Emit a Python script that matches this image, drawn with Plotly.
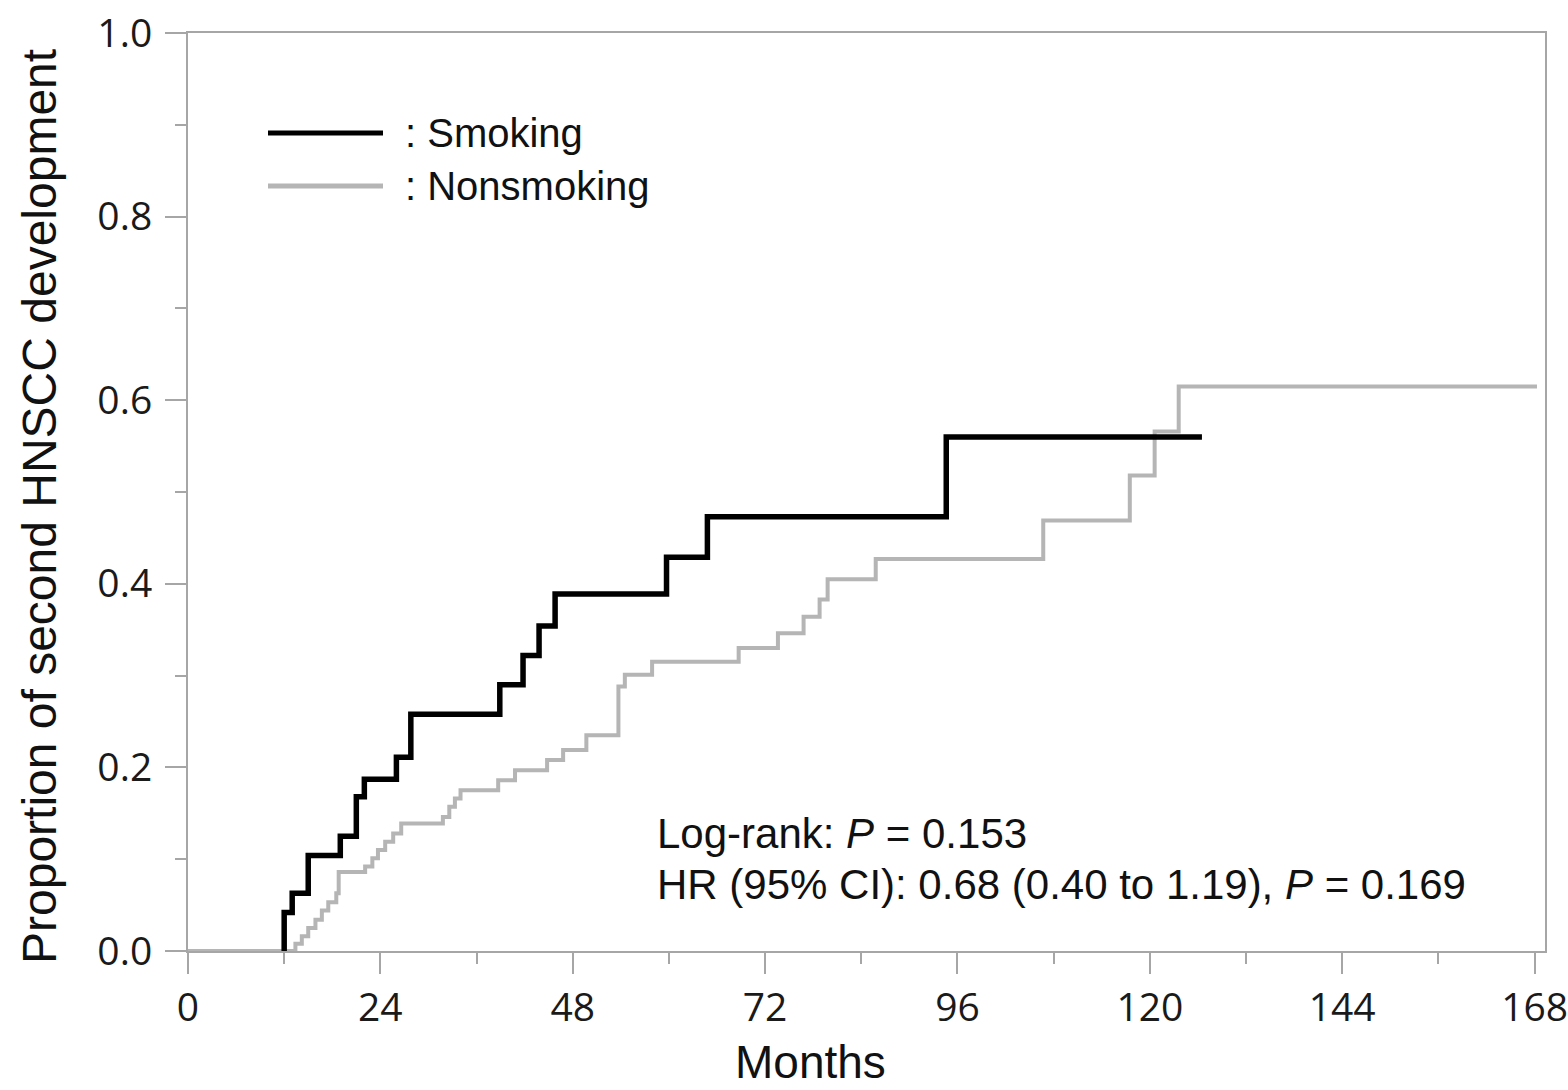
import plotly.graph_objects as go

# ---- data ----
smoking_months = [12.0, 12.0, 13.0, 15.0, 19.0, 21.0, 22.0, 26.0, 27.8, 38.9, 41.8, 43.8, 45.8, 59.7, 64.8, 94.6, 126.5]
smoking_prop = [0.0, 0.042, 0.063, 0.104, 0.125, 0.168, 0.187, 0.211, 0.258, 0.290, 0.322, 0.354, 0.389, 0.429, 0.473, 0.560, 0.560]

nonsmoking_months = [0, 12.0, 13.4, 14.2, 15.0, 15.9, 16.7, 17.5, 18.5, 18.8, 22.1, 23.0, 23.7, 24.6, 25.6, 26.6,
                     31.8, 32.6, 33.3, 34.0, 38.7, 40.8, 44.8, 46.8, 49.7, 53.7, 54.5, 57.9, 68.7, 73.6, 76.8,
                     78.8, 79.8, 85.8, 106.7, 117.5, 120.6, 123.6, 168.3]
nonsmoking_prop = [0.0, 0.0, 0.008, 0.016, 0.025, 0.034, 0.044, 0.053, 0.063, 0.086, 0.092, 0.101, 0.110, 0.119, 0.128, 0.139,
                   0.146, 0.157, 0.166, 0.175, 0.186, 0.197, 0.208, 0.219, 0.235, 0.288, 0.301, 0.315, 0.330, 0.346, 0.364,
                   0.383, 0.405, 0.427, 0.469, 0.518, 0.566, 0.615, 0.615]

x_ticks = [0, 24, 48, 72, 96, 120, 144, 168]
y_ticks = [0.0, 0.2, 0.4, 0.6, 0.8, 1.0]
y_tick_labels = ["0.0", "0.2", "0.4", "0.6", "0.8", "1.0"]

BLACK = "#000000"
GRAY = "#b5b5b5"
AXIS = "#a6a6a6"
TEXT_FONT = "Liberation Sans, Arial, sans-serif"
TICK_FONT = "Open Sans, sans-serif"

W, H = 1568, 1090
# plot area in page pixels
PL, PR, PT, PB = 188, 1545, 33, 951
PW, PH = PR - PL, PB - PT


def px(xp):
    return (xp - PL) / PW


def py(yp):
    return (PB - yp) / PH


fig = go.Figure()
fig.add_trace(go.Scatter(x=nonsmoking_months, y=nonsmoking_prop, mode="lines",
                         line=dict(shape="hv", color=GRAY, width=4), name="Nonsmoking",
                         showlegend=False))
fig.add_trace(go.Scatter(x=smoking_months, y=smoking_prop, mode="lines",
                         line=dict(shape="hv", color=BLACK, width=5.5), name="Smoking",
                         showlegend=False))

axis_common = dict(showline=True, linecolor=AXIS, linewidth=2, mirror=True,
                   ticks="outside", ticklen=21, tickwidth=2, tickcolor=AXIS,
                   showgrid=False, zeroline=False, ticklabeloverflow="allow",
                   tickfont=dict(family=TICK_FONT, size=39, color="#1a1a1a"))

fig.update_xaxes(range=[0, 169.3], tickvals=x_ticks,
                 minor=dict(dtick=12, tick0=0, ticklen=11, tickwidth=2, tickcolor=AXIS, ticks="outside", showgrid=False),
                 **axis_common)
fig.update_yaxes(range=[0, 1.0], tickvals=y_ticks, ticktext=y_tick_labels, ticklabelstandoff=5,
                 minor=dict(dtick=0.1, tick0=0, ticklen=11, tickwidth=2, tickcolor=AXIS, ticks="outside", showgrid=False),
                 **axis_common)

# legend drawn manually
fig.add_shape(type="line", xref="paper", yref="paper", x0=px(268), x1=px(383), y0=py(133), y1=py(133),
              line=dict(color=BLACK, width=5))
fig.add_shape(type="line", xref="paper", yref="paper", x0=px(268), x1=px(383), y0=py(186), y1=py(186),
              line=dict(color=GRAY, width=5))
fig.add_annotation(xref="paper", yref="paper", x=px(403), y=py(133), xanchor="left", yanchor="middle",
                   text=": Smoking", showarrow=False, font=dict(family=TEXT_FONT, size=40, color="#111"))
fig.add_annotation(xref="paper", yref="paper", x=px(403), y=py(186), xanchor="left", yanchor="middle",
                   text=": Nonsmoking", showarrow=False, font=dict(family=TEXT_FONT, size=40, color="#111"))

# statistics text
fig.add_annotation(xref="paper", yref="paper", x=px(655), y=py(833), xanchor="left", yanchor="middle",
                   text="Log-rank: <i>P</i> = 0.153", showarrow=False,
                   font=dict(family=TEXT_FONT, size=42, color="#111"))
fig.add_annotation(xref="paper", yref="paper", x=px(655), y=py(884), xanchor="left", yanchor="middle",
                   text="HR (95% CI): 0.68 (0.40 to 1.19), <i>P</i> = 0.169", showarrow=False,
                   font=dict(family=TEXT_FONT, size=42, color="#111"))

# axis titles
fig.add_annotation(xref="paper", yref="paper", x=px(810), y=py(H),
                   xanchor="center", yanchor="bottom", text="Months", showarrow=False,
                   font=dict(family=TEXT_FONT, size=46, color="#111"))
fig.add_annotation(xref="paper", yref="paper", x=px(40), y=py(507),
                   xanchor="center", yanchor="middle", text="Proportion of second HNSCC development",
                   textangle=-90, showarrow=False,
                   font=dict(family=TEXT_FONT, size=48, color="#111"))

fig.update_layout(width=W, height=H, plot_bgcolor="white", paper_bgcolor="white",
                  margin=dict(l=PL, r=W - PR, t=PT, b=H - PB, autoexpand=False),
                  showlegend=False)

fig.write_html("out.html", config={"displayModeBar": False},
               post_script="document.body.style.margin='0';document.body.style.overflow='hidden';")
